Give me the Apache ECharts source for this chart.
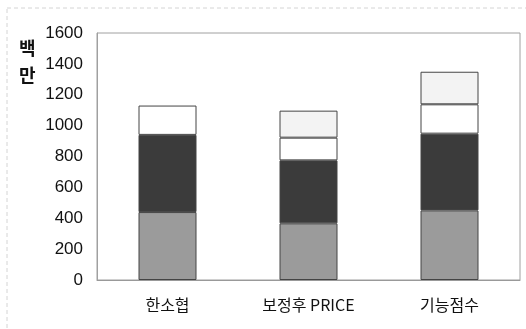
<!DOCTYPE html>
<html>
<head>
<meta charset="utf-8">
<script src="https://cdn.jsdelivr.net/npm/echarts@6/dist/echarts.min.js"></script>
<style>
  html, body { margin: 0; padding: 0; background: #fff; }
  #chart { width: 526px; height: 329px; }
</style>
</head>
<body>
<div id="chart"></div>
<script>
// categories and stacked segment values (백만)
const categories = ['한소협', '보정후 PRICE', '기능점수'];
const baseCost = [440, 367, 451];
const mainCost = [500, 408, 497];
const extraCost = [190, 147, 190];
const topCost = ['-', 175, 211];
const yTicks = [0, 200, 400, 600, 800, 1000, 1200, 1400, 1600];

const chart = echarts.init(document.getElementById('chart'));

const font = 'Liberation Sans';
const korFont = 'Noto Sans CJK KR';
const edge = { borderColor: '#444', borderWidth: 1 };

const makeSeries = (name, data, color) => ({
  name,
  type: 'bar',
  stack: 'total',
  barWidth: 58,
  data,
  itemStyle: { color, ...edge },
});

const option = {
  backgroundColor: '#fff',
  animation: false,
  grid: {
    left: 97,
    right: 6,
    top: 33,
    bottom: 49,
    show: true,
    borderColor: '#a0a0a0',
    borderWidth: 1,
  },
  graphic: [
    {
      type: 'rect',
      shape: { x: 7, y: 8, width: 530, height: 330 },
      style: { fill: 'none', stroke: '#d4d4d4', lineWidth: 1, lineDash: [4, 3] },
    },
    {
      type: 'text',
      left: 19,
      top: 35,
      style: {
        text: '백\n만',
        font: 'bold 18px "Noto Sans CJK KR"',
        lineHeight: 27,
        fill: '#111',
      },
    },
  ],
  xAxis: {
    type: 'category',
    data: categories,
    axisLine: { show: true, lineStyle: { color: '#999' } },
    axisTick: { show: false },
    axisLabel: {
      margin: 17,
      fontSize: 16,
      color: '#111',
      fontFamily: korFont,
    },
  },
  yAxis: {
    type: 'value',
    min: yTicks[0],
    max: yTicks[yTicks.length - 1],
    interval: 200,
    splitLine: { show: false },
    axisLine: { show: true, lineStyle: { color: '#a0a0a0' } },
    axisTick: { show: false },
    axisLabel: {
      margin: 14,
      fontSize: 17,
      color: '#111',
      fontFamily: font,
      formatter: (v) => String(v),
    },
  },
  series: [
    makeSeries('base', baseCost, '#9b9b9b'),
    makeSeries('main', mainCost, '#3b3b3b'),
    makeSeries('extra', extraCost, '#ffffff'),
    makeSeries('top', topCost, '#f3f3f3'),
  ],
};

chart.setOption(option);
</script>
</body>
</html>
